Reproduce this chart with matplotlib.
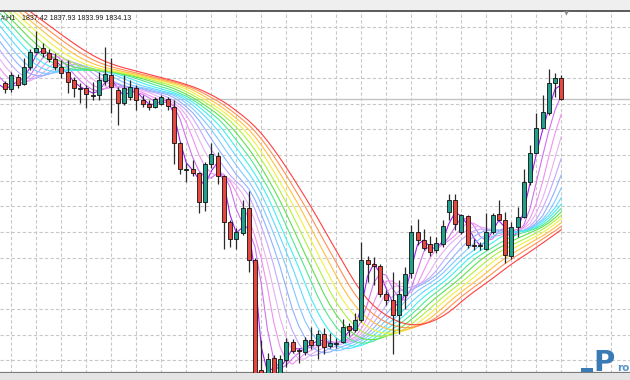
import numpy as np
import pandas as pd
import matplotlib.pyplot as plt
from matplotlib.patches import Rectangle

# -----------------------
# data: H1 bars (price)
# -----------------------
open_ = [1836.58, 1835.65, 1837.62, 1836.48, 1839.08, 1841.52, 1842.05, 1841.37, 1840.33, 1839.08,
         1838.40, 1837.10, 1835.65, 1835.80, 1834.83, 1834.76, 1836.99, 1837.88, 1835.54, 1833.46,
         1834.49, 1835.80, 1833.98, 1833.35, 1832.83, 1833.35, 1834.18, 1832.83, 1827.21, 1823.12,
         1823.30, 1822.62, 1818.08, 1823.98, 1825.33, 1822.10, 1814.96, 1812.37, 1813.24, 1817.21,
         1808.98, 1791.79, 1790.85, 1793.66, 1790.85, 1793.46, 1796.21, 1794.99, 1794.65, 1796.48,
         1795.69, 1797.41, 1795.54, 1795.88, 1796.21, 1798.66, 1798.15, 1799.60, 1808.98, 1808.46,
         1808.04, 1803.66, 1802.83, 1800.38, 1803.51, 1806.94, 1813.40, 1812.21, 1811.48, 1810.54,
         1811.48, 1816.52, 1818.35, 1813.40, 1815.90, 1811.40, 1811.24, 1810.80, 1813.40, 1816.16,
         1815.23, 1809.60, 1814.18, 1815.74, 1821.21, 1825.74, 1829.68, 1831.90, 1836.68, 1837.42]
high = [1836.99, 1838.35, 1838.04, 1840.54, 1841.94, 1844.80, 1842.88, 1841.94, 1841.32, 1840.23,
        1840.23, 1837.62, 1836.63, 1836.32, 1836.83, 1838.40, 1842.30, 1840.54, 1836.01, 1837.88,
        1837.10, 1836.32, 1834.76, 1833.98, 1834.49, 1834.76, 1834.49, 1833.98, 1827.46, 1824.13,
        1824.60, 1822.77, 1824.33, 1827.30, 1825.90, 1822.26, 1815.23, 1813.98, 1818.46, 1819.80,
        1809.29, 1796.48, 1794.44, 1794.13, 1794.13, 1796.79, 1796.63, 1795.23, 1796.99, 1798.55,
        1798.04, 1798.46, 1797.57, 1796.79, 1799.76, 1799.13, 1800.69, 1811.83, 1809.60, 1809.49,
        1808.46, 1804.29, 1807.15, 1805.96, 1807.93, 1814.44, 1815.49, 1813.82, 1812.73, 1812.62,
        1815.23, 1819.29, 1819.29, 1816.27, 1816.01, 1812.37, 1811.83, 1816.37, 1816.37, 1818.35,
        1816.52, 1814.91, 1817.30, 1823.30, 1826.94, 1831.90, 1834.76, 1838.82, 1838.19, 1837.93]
low = [1835.02, 1835.23, 1835.85, 1836.32, 1838.66, 1841.27, 1840.74, 1839.96, 1838.66, 1837.37,
       1835.07, 1834.40, 1833.51, 1832.73, 1833.98, 1833.98, 1836.32, 1831.99, 1830.07, 1833.19,
       1833.98, 1832.41, 1832.93, 1832.41, 1832.68, 1833.15, 1832.41, 1824.08, 1822.52, 1821.21,
       1822.10, 1816.37, 1816.68, 1823.46, 1820.96, 1810.80, 1811.05, 1810.80, 1812.88, 1807.15,
       1789.44, 1789.44, 1790.23, 1790.23, 1790.23, 1792.30, 1794.44, 1792.93, 1794.13, 1795.18,
       1793.51, 1794.29, 1795.23, 1795.23, 1796.05, 1797.10, 1797.77, 1799.33, 1805.58, 1805.07,
       1803.24, 1801.94, 1794.40, 1797.52, 1801.43, 1806.16, 1811.32, 1810.54, 1809.60, 1810.07,
       1811.05, 1815.23, 1813.66, 1813.15, 1810.85, 1810.54, 1810.54, 1810.54, 1813.15, 1815.23,
       1808.51, 1809.24, 1812.62, 1815.54, 1820.69, 1825.65, 1829.55, 1831.63, 1834.44, 1833.99]
close = [1835.65, 1837.88, 1836.32, 1839.18, 1841.52, 1842.05, 1841.37, 1840.33, 1839.18, 1838.15,
         1836.83, 1835.80, 1835.85, 1834.91, 1834.68, 1837.10, 1838.04, 1835.96, 1833.46, 1835.80,
         1835.96, 1833.98, 1833.35, 1832.83, 1834.08, 1834.40, 1833.04, 1827.21, 1823.15, 1823.27,
         1822.62, 1818.08, 1823.98, 1825.49, 1822.10, 1814.96, 1812.37, 1813.40, 1817.21, 1808.98,
         1791.01, 1790.85, 1793.51, 1790.85, 1793.51, 1796.21, 1794.80, 1794.83, 1796.48, 1795.80,
         1797.41, 1795.43, 1796.05, 1796.04, 1798.55, 1798.15, 1799.60, 1808.98, 1808.35, 1808.04,
         1803.66, 1802.83, 1800.38, 1803.66, 1806.90, 1813.35, 1812.10, 1810.96, 1810.23, 1811.63,
         1814.29, 1818.35, 1814.71, 1816.01, 1811.32, 1811.24, 1811.40, 1813.40, 1816.01, 1815.33,
         1809.76, 1814.18, 1815.74, 1821.21, 1825.74, 1829.55, 1832.10, 1836.63, 1837.37, 1834.13]

# closes of the bars left of the visible window (only feed the averages)
prev_close = [1853.51] * 25 + [1851.94, 1851.16, 1850.38, 1849.60, 1848.82, 1847.73, 1846.48, 1844.91,
                               1843.35, 1842.10, 1840.54, 1839.13, 1837.57, 1836.32, 1835.54]

# each rainbow line: SMA(p) of SMA(p) of close
ma_periods = [2, 3, 4, 5, 6, 7, 8, 9, 10, 11, 12, 13, 14, 15, 16, 17]
ma_colors = ['#a020f0', '#d070f0', '#f090f0', '#e8b0f0', '#c0a8ff', '#90b0ff', '#80c8ff', '#60d8ff',
             '#40f0f0', '#50e890', '#60e050', '#b0f040', '#f0f040', '#ffc040', '#ff9050', '#ff4040']

symbol = "#,H1"
ohlc_text = "1837.42 1837.93 1833.99 1834.13"

bull_color = '#22a08e'
bear_color = '#e8473e'
logo_color = '#3a7ab5'

# -----------------------
# figure
# -----------------------
fig = plt.figure(figsize=(6.3, 3.8), dpi=100)
fig.patch.set_facecolor('white')
fig.add_artist(Rectangle((0, 1 - 10 / 380), 1, 10 / 380, transform=fig.transFigure,
                         facecolor='#efefef', edgecolor='none'))
fig.add_artist(Rectangle((0, 0), 1, 7 / 380, transform=fig.transFigure,
                         facecolor='#e4e4e4', edgecolor='none'))

ax = fig.add_axes([0, 7.5 / 380, 1, 361.5 / 380])
ax.set_xlim(-0.8, 100)
ax.set_ylim(1791.475, 1847.88)

# moving averages
all_close = pd.Series(prev_close + close)
x_all = np.arange(-len(prev_close), len(close))
for p, col in zip(ma_periods, ma_colors):
    ma = all_close.rolling(p).mean().rolling(p).mean()
    ax.plot(x_all, ma, color=col, lw=0.8, zorder=2)

# bid line
ax.axhline(close[-1], color='#c4c4c4', lw=1, zorder=1)

# candles
for i in range(len(close)):
    o, h, l, c = open_[i], high[i], low[i], close[i]
    ax.vlines(i, l, h, color='#2b2b2b', lw=0.9, zorder=3)
    bottom = min(o, c)
    height = max(abs(c - o), 0.12)
    col = bull_color if c >= o else bear_color
    ax.add_patch(Rectangle((i - 0.32, bottom), 0.64, height, facecolor=col,
                           edgecolor='#111111', lw=0.6, zorder=4))

# grid
ax.set_xticks(np.arange(1, 100, 4))
ax.set_yticks(np.arange(1793.4, 1847, 4.0))
ax.grid(True, color='#c8c8c8', linestyle=(0, (3, 2)), lw=0.8, zorder=0)
ax.tick_params(length=0, labelbottom=False, labelleft=False)
for side in ['left', 'right']:
    ax.spines[side].set_visible(False)
ax.spines['top'].set_color('#5a5a5a')
ax.spines['top'].set_linewidth(1.4)
ax.spines['bottom'].set_color('#7a7a7a')
ax.spines['bottom'].set_linewidth(1.6)

# header text and markers
fig.text(1 / 630, 1 - 19.5 / 380, symbol, fontsize=5.1, family='Liberation Sans', color='#1a1a1a')
fig.text(22 / 630, 1 - 19.5 / 380, ohlc_text, fontsize=5.1, family='Liberation Sans', color='#1a1a1a')
fig.text(566 / 630, 1 - 13.5 / 380, '\u25bc', fontsize=4.5, color='#8c8c8c', ha='center', va='center')

# watermark logo in the corner
fig.add_artist(Rectangle((581 / 630, 8 / 380), 12 / 630, 4 / 380, transform=fig.transFigure,
                         facecolor=logo_color, edgecolor='none', zorder=5))
fig.text(593 / 630, 9 / 380, 'P', fontsize=21, fontweight='bold', color=logo_color,
         family='DejaVu Sans Condensed', va='baseline')
fig.text(617 / 630, 9 / 380, 'ro', fontsize=7.5, fontweight='bold', color='#5a93c8', va='baseline')

fig.savefig('out.png', dpi=100)
